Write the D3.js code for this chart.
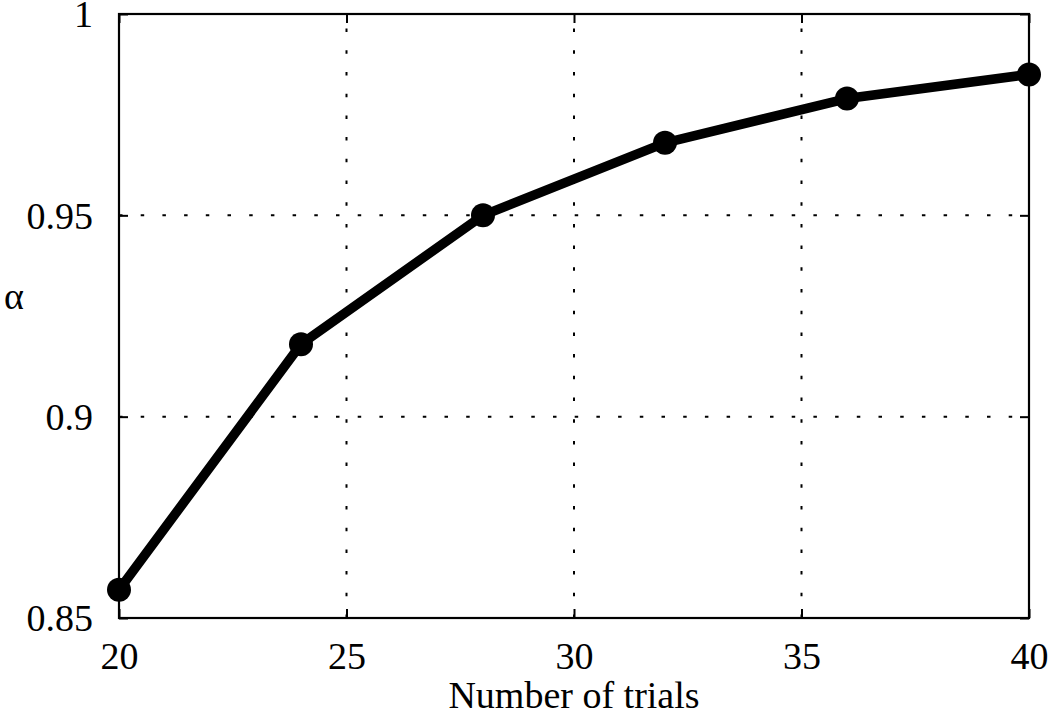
<!DOCTYPE html>
<html>
<head>
<meta charset="utf-8">
<script src="https://cdn.jsdelivr.net/npm/d3@7"></script>
<style>
  html, body { margin: 0; padding: 0; background: #fff; }
  svg { display: block; }
  text { font-family: "Liberation Serif", "Times New Roman", serif; fill: #000; }
</style>
</head>
<body>
<svg id="chart" width="1050" height="717"></svg>
<script>
const trials = [20, 24, 28, 32, 36, 40];
const alphaValues = [0.857, 0.918, 0.950, 0.968, 0.979, 0.985];
const xTicks = [20, 25, 30, 35, 40];
const yTicks = [0.85, 0.9, 0.95, 1];
const yTickLabels = ["0.85", "0.9", "0.95", "1"];
const xLabel = "Number of trials";
const yLabel = "α";

const svg = d3.select("#chart");
const L = 119, R = 1029, T = 14, B = 618;
const x = d3.scaleLinear().domain([20, 40]).range([L, R]);
const y = d3.scaleLinear().domain([0.85, 1]).range([B, T]);
const FONT = "Liberation Serif, Times New Roman, serif";

// grid
const grid = svg.append("g");
grid.selectAll(".vg").data(xTicks.slice(1, -1)).join("line")
  .attr("x1", d => x(d)).attr("x2", d => x(d)).attr("y1", B).attr("y2", T)
  .attr("stroke", "#000").attr("stroke-width", 2).attr("stroke-dasharray", "3.5,18.2");
grid.selectAll(".hg").data(yTicks.slice(1, -1)).join("line")
  .attr("x1", L).attr("x2", R).attr("y1", d => y(d)).attr("y2", d => y(d))
  .attr("stroke", "#000").attr("stroke-width", 2).attr("stroke-dasharray", "3.5,18.2");

// axes (inside ticks on all sides)
const fmt = (d) => yTickLabels[yTicks.indexOf(d)];
const axB = svg.append("g").attr("transform", `translate(0,${B})`)
  .call(d3.axisBottom(x).tickValues(xTicks).tickSizeInner(-9).tickSizeOuter(0).tickPadding(24));
const axT = svg.append("g").attr("transform", `translate(0,${T})`)
  .call(d3.axisTop(x).tickValues(xTicks).tickSizeInner(-9).tickSizeOuter(0).tickFormat(""));
const axL = svg.append("g").attr("transform", `translate(${L},0)`)
  .call(d3.axisLeft(y).tickValues(yTicks).tickFormat(fmt).tickSizeInner(-9).tickSizeOuter(0).tickPadding(26));
const axR = svg.append("g").attr("transform", `translate(${R},0)`)
  .call(d3.axisRight(y).tickValues(yTicks).tickSizeInner(-9).tickSizeOuter(0).tickFormat(""));
[axB, axT, axL, axR].forEach(g => {
  g.attr("font-family", FONT).attr("font-size", 38);
  g.select(".domain").remove();
  g.selectAll(".tick line").attr("stroke", "#000").attr("stroke-width", 2);
  g.selectAll(".tick text").attr("font-family", FONT).style("font-family", FONT)
    .style("font-size", "38px").attr("fill", "#000");
});
axL.selectAll(".tick text").attr("dy", "0.34em");

// frame
svg.append("rect").attr("x", L).attr("y", T).attr("width", R - L).attr("height", B - T)
  .attr("fill", "none").attr("stroke", "#000").attr("stroke-width", 2.2);

// line + markers
const pts = trials.map((t, i) => [t, alphaValues[i]]);
svg.append("path").datum(pts)
  .attr("d", d3.line().x(d => x(d[0])).y(d => y(d[1])))
  .attr("fill", "none").attr("stroke", "#000").attr("stroke-width", 9.5)
  .attr("stroke-linejoin", "round");
svg.selectAll(".mk").data(pts).join("circle")
  .attr("cx", d => x(d[0])).attr("cy", d => y(d[1])).attr("r", 12).attr("fill", "#000");

// labels
svg.append("text").attr("x", (L + R) / 2).attr("y", 708).attr("text-anchor", "middle")
  .style("font-size", "38px").text(xLabel);
svg.append("text").attr("x", 14).attr("y", 298).attr("dy", "0.3em").attr("text-anchor", "middle")
  .style("font-size", "38px").text(yLabel);
</script>
</body>
</html>
